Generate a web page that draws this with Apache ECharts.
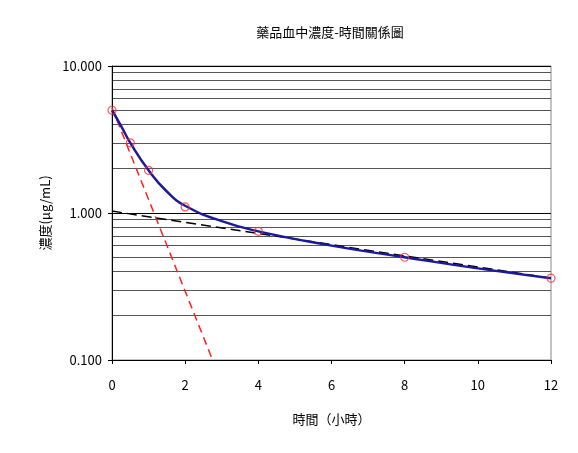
<!DOCTYPE html>
<html><head><meta charset="utf-8">
<script src="https://cdn.jsdelivr.net/npm/echarts@6/dist/echarts.min.js"></script>
<style>html,body{margin:0;padding:0;background:#fff}#c{width:578px;height:453px}</style>
</head><body><div id="c"></div>
<script>
const measured = [[0,5],[0.5,3],[1,1.95],[2,1.1],[4,0.75],[8,0.5],[12,0.36]];
const fitCurve = [[0,5],[0.25,3.9],[0.5,3],[1,1.95],[1.5,1.4],[2,1.12],[3,0.88],[4,0.75],[6,0.6],[8,0.5],[10,0.42],[12,0.36]];
const slowPhase = [[0,1.03],[12,0.36]];
const fastPhase = [[0,5.2],[2.75,0.1]];
const xTicks = [0,2,4,6,8,10,12];
const font = '"Noto Sans CJK TC", sans-serif';
const chart = echarts.init(document.getElementById('c'));
chart.setOption({
  animation:false,
  title:{text:'藥品血中濃度-時間關係圖',left:325,top:21,textAlign:'center',textStyle:{fontSize:13,fontWeight:'normal',color:'#000',fontFamily:font}},
  grid:{left:112,right:27,top:66,bottom:93,show:true,borderColor:'#888',borderWidth:1},
  xAxis:{type:'value',min:0,max:12,interval:2,name:'時間（小時）',nameLocation:'middle',nameGap:53,
    nameTextStyle:{fontSize:13,color:'#000',fontFamily:font},
    axisLine:{lineStyle:{color:'#000'}},axisTick:{show:true,inside:false,length:4,lineStyle:{color:'#000'}},
    axisLabel:{color:'#000',fontSize:13,margin:19,fontFamily:font,formatter:v=>xTicks.includes(v)?String(v):''},splitLine:{show:false}},
  yAxis:{type:'log',min:0.1,max:10,logBase:10,name:'濃度(μg/mL)',nameLocation:'middle',nameGap:60,
    nameTextStyle:{fontSize:13,color:'#000',fontFamily:font},
    axisLine:{show:true,lineStyle:{color:'#000'}},axisTick:{show:true,length:4,lineStyle:{color:'#000'}},
    axisLabel:{color:'#000',fontSize:13,margin:10,fontFamily:font,formatter:v=>v.toFixed(3)},
    splitLine:{show:true,lineStyle:{color:'#000',width:1}},
    minorTick:{show:false,splitNumber:9},
    minorSplitLine:{show:true,lineStyle:{color:'#555',width:1}}},
  series:[
    {type:'line',data:fastPhase,symbol:'none',lineStyle:{color:'#ff2020',type:[8,5],width:1.5},z:3},
    {type:'line',data:slowPhase,symbol:'none',lineStyle:{color:'#000',type:[10,5],width:1.5},z:3},
    {type:'line',data:fitCurve,smooth:true,symbol:'none',lineStyle:{color:'#1a1a9a',width:2.5},z:4},
    {type:'scatter',data:measured,symbol:'circle',symbolSize:8,itemStyle:{color:'transparent',borderColor:'#ff3030',borderWidth:1.2},z:5}
  ]
});
</script></body></html>
